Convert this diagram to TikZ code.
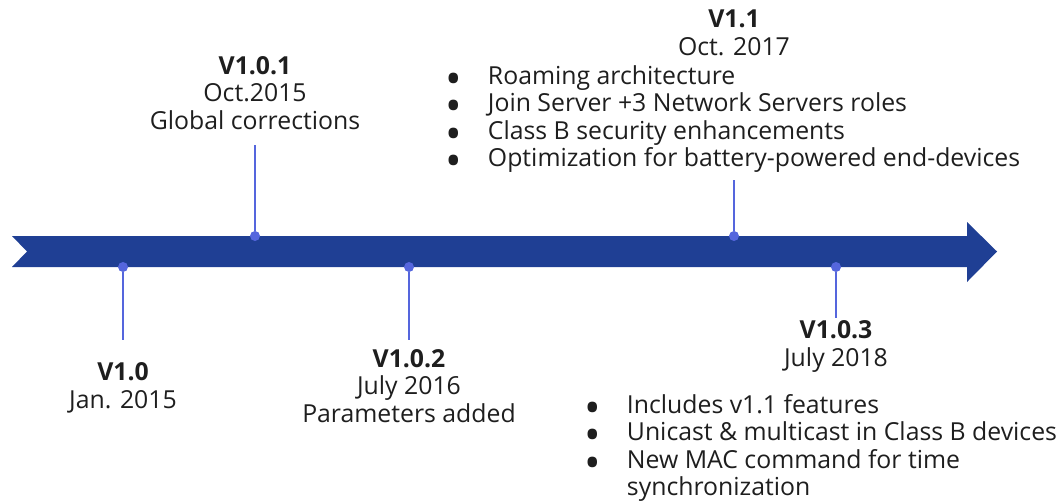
\documentclass[tikz,border=0pt]{standalone}
\usepackage{fontspec}
\setmainfont{Open Sans}
\usepackage{xcolor}
\usetikzlibrary{positioning}
\definecolor{bandblue}{HTML}{1F3F94}
\definecolor{pinblue}{HTML}{5566DD}
\definecolor{txtgray}{HTML}{1E1E1E}
\tikzset{pin line/.style = {pinblue, line width=1pt}}
\newcommand{\bigbul}{\smash{\raisebox{-5pt}{\fontsize{22}{13.75}\selectfont\textbullet}}}

\begin{document}
\begin{tikzpicture}[x=0.5pt,y=-0.5pt,
    every node/.style={text=txtgray,font=\fontsize{12.4}{13.75}\selectfont},
    dot/.style={circle,fill=pinblue,inner sep=0pt,minimum size=5pt},
    label node/.style={align=center,anchor=base,inner sep=0pt},
    list node/.style={anchor=base west,inner sep=0pt}]
    \useasboundingbox (0,0) rectangle (1063,503);

    % timeline band
    \fill[bandblue] (12,236) -- (967,236) -- (967,222) -- (997,251.5) -- (967,282)
        -- (967,267) -- (12,267) -- (27,251.5) -- cycle;

    % release points
    \node[dot] (d10)  at (123,267) {};
    \node[dot] (d101) at (255,236) {};
    \node[dot] (d102) at (409,267) {};
    \node[dot] (d11)  at (734,236) {};
    \node[dot] (d103) at (836,267) {};

    \coordinate (e10)  at (123,340);
    \coordinate (e101) at (255,145);
    \coordinate (e102) at (409,340);
    \coordinate (e11)  at (734,180);
    \coordinate (e103) at (836,318);

    \draw[pin line] (d10) -- (e10);
    \draw[pin line] (d101) -- (e101);
    \draw[pin line] (d102) -- (e102);
    \draw[pin line] (d11) -- (e11);
    \draw[pin line] (d103) -- (e103);

    % labels (anchored at the baseline of the last line)
    \node[label node] (t10)  at (123,408) {\textbf{V1.0}\\Jan. 2015};
    \node[label node] (t101) at (255,129) {\textbf{V1.0.1}\\Oct.2015\\Global corrections};
    \node[label node] (t102) at (409,422) {\textbf{V1.0.2}\\July 2016\\Parameters added};
    \node[label node] (t11)  at (734,55)  {\textbf{V1.1}\\Oct. 2017};
    \node[label node] (t103) at (836,366) {\textbf{V1.0.3}\\July 2018};

    \node[list node] (l11) at (445,84) {\begin{tabular}[t]{@{}l@{\hspace{13pt}}l@{}}
        \bigbul & Roaming architecture\\
        \bigbul & Join Server +3 Network Servers roles\\
        \bigbul & Class B security enhancements\\
        \bigbul & Optimization for battery-powered end-devices
    \end{tabular}};
    \node[list node] (l103) at (584,413) {\begin{tabular}[t]{@{}l@{\hspace{13pt}}l@{}}
        \bigbul & Includes v1.1 features\\
        \bigbul & Unicast \& multicast in Class B devices\\
        \bigbul & New MAC command for time\\
                & synchronization
    \end{tabular}};
\end{tikzpicture}
\end{document}
